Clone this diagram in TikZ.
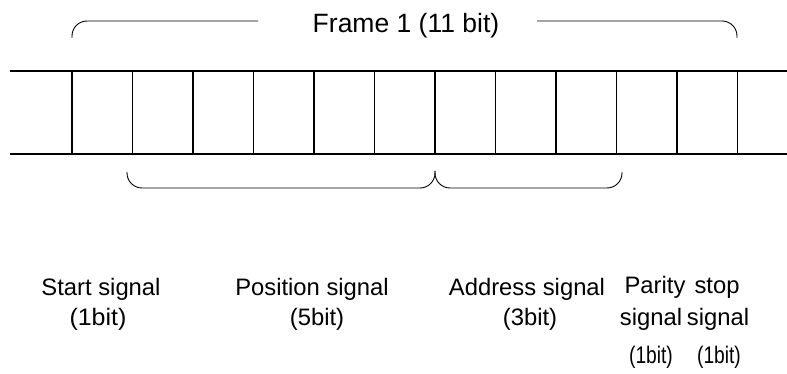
\documentclass[tikz,border=0pt]{standalone}
\usepackage{fontspec}
\setmainfont{Liberation Sans}
\begin{document}
\begin{tikzpicture}[x=1pt,y=-1pt,
  frameline/.style={line width=2pt},
  cellline/.style={line width=1.9pt},
  bracket/.style={line width=0.9pt, rounded corners=15pt},
  lbl/.style={anchor=base, inner sep=0pt, font=\fontsize{23.8}{28}\selectfont},
  smalllbl/.style={anchor=base, inner sep=0pt, font=\fontsize{24}{28}\selectfont}]
\useasboundingbox (0,0) rectangle (787,374);
% frame lines
\coordinate (tl) at (10,71);
\coordinate (tr) at (787,71);
\coordinate (bl) at (10,154);
\coordinate (br) at (787,154);
\draw[frameline] (tl) -- (tr);
\draw[frameline] (bl) -- (br);
% cell separators
\foreach \i/\x in {0/72,1/132.5,2/193,3/253.5,4/314,5/374.5,6/435,7/495.5,8/556,9/616.5,10/677,11/737.5} {
  \coordinate (t\i) at (\x,71);
  \coordinate (b\i) at (\x,154);
  \draw[cellline] (t\i) -- (b\i);
}
% top bracket
\node[anchor=base, inner sep=0pt, font=\fontsize{26.5}{30}\selectfont] (frame) at (406,33) {Frame 1 (11 bit)};
\coordinate (f1) at (72,38);
\coordinate (f2) at (72,21);
\coordinate (f3) at (258,21);
\coordinate (f4) at (537,21);
\coordinate (f5) at (737,21);
\coordinate (f6) at (737,38);
\draw[bracket] (f1) -- (f2) -- (f3);
\draw[bracket] (f4) -- (f5) -- (f6);
% bottom brackets
\coordinate (p1) at (127,172);
\coordinate (p2) at (127,188);
\coordinate (p3) at (435,188);
\coordinate (p4) at (435,171);
\coordinate (a2) at (622,188);
\coordinate (a3) at (622,172);
\draw[bracket] (p1) -- (p2) -- (p3) -- (p4);
\draw[bracket] (p4) -- (p3) -- (a2) -- (a3);
% labels
\node[lbl] (start) at (101,295) {Start signal};
\node[lbl] (startb) at (98,325) {\scalebox{1.05}[1]{(1bit)}};
\node[lbl] (pos) at (312,295) {Position signal};
\node[lbl] (posb) at (317,325) {(5bit)};
\node[lbl] (addr) at (527,295) {Address signal};
\node[lbl] (addrb) at (530,325) {(3bit)};
\node[lbl] (par) at (655,293) {Parity};
\node[lbl] (stop) at (717,293) {stop};
\node[lbl] (pars) at (651,325) {signal};
\node[lbl] (stops) at (718,325) {signal};
\node[smalllbl] (parb) at (651,363) {\scalebox{0.8}[1]{(1bit)}};
\node[smalllbl] (stopb) at (719,363) {\scalebox{0.8}[1]{(1bit)}};
\end{tikzpicture}
\end{document}
